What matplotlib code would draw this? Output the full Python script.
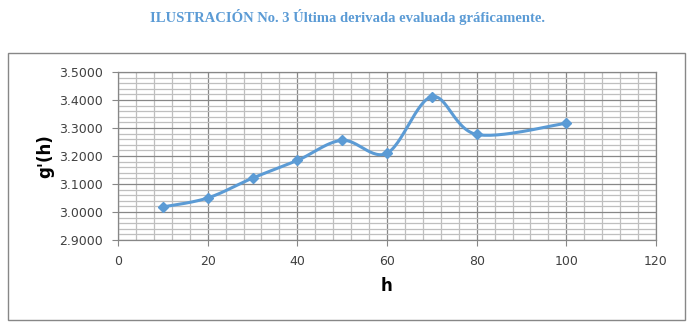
import numpy as np
import matplotlib
matplotlib.use("Agg")
import matplotlib.pyplot as plt
from matplotlib.patches import Rectangle

h_vals = [10, 20, 30, 40, 50, 60, 70, 80, 100]
g_vals = [3.018, 3.050, 3.121, 3.184, 3.256, 3.210, 3.412, 3.277, 3.317]
title = "ILUSTRACIÓN No. 3 Última derivada evaluada gráficamente."
blue = "#5B9BD5"

fig = plt.figure(figsize=(6.95, 3.31), dpi=100)
ax = fig.add_axes([118/695, 1-240/331, (656-118)/695, (240-72)/331])
ax.set_xlim(0, 120)
ax.set_ylim(2.9, 3.5)
ax.set_xticks(np.arange(0, 121, 20))
ax.set_yticks(np.arange(2.9, 3.5001, 0.1))
ax.set_xticks(np.arange(0, 121, 4), minor=True)
ax.set_yticks(np.arange(2.9, 3.5001, 0.02), minor=True)
ax.set_yticklabels([f"{v:.4f}" for v in np.arange(2.9, 3.5001, 0.1)])
ax.grid(which="minor", color="#BFBFBF", lw=0.9)
ax.grid(which="major", color="#878787", lw=0.9)
ax.set_axisbelow(True)
ax.tick_params(which="minor", length=0)
ax.tick_params(which="major", length=4, direction="out", color="#878787",
               labelsize=9, labelcolor="#404040")
ax.tick_params(axis="y", pad=7)
ax.tick_params(axis="x", pad=7)
for s in ax.spines.values():
    s.set_color("#878787")
    s.set_linewidth(0.9)

# Excel-like smooth curve (Catmull-Rom in display space)
fig.canvas.draw()
pts = ax.transData.transform(np.column_stack([h_vals, g_vals]))
n = len(pts)
verts = [pts[0]]
for i in range(n - 1):
    p0 = pts[i - 1] if i > 0 else pts[i]
    p1 = pts[i]
    p2 = pts[i + 1]
    p3 = pts[i + 2] if i + 2 < n else pts[i + 1]
    c1 = p1 + (p2 - p0) / 6.0
    c2 = p2 - (p3 - p1) / 6.0
    verts += [c1, c2, p2]
verts_data = ax.transData.inverted().transform(np.array(verts))
t = np.linspace(0, 1, 30)
curve = []
for i in range(n - 1):
    P0, P1, P2, P3 = verts_data[3*i], verts_data[3*i+1], verts_data[3*i+2], verts_data[3*i+3]
    seg = ((1-t)**3)[:, None]*P0 + (3*(1-t)**2*t)[:, None]*P1 + (3*(1-t)*t**2)[:, None]*P2 + (t**3)[:, None]*P3
    curve.append(seg)
curve = np.vstack(curve)
ax.plot(curve[:, 0], curve[:, 1], color=blue, lw=2.2, solid_capstyle="round")
ax.plot(h_vals, g_vals, linestyle="none", marker="D", markersize=5.5, color=blue)

ax.set_xlabel("h", fontsize=12, fontweight="bold", color="black", labelpad=6)
ax.set_ylabel("g'(h)", fontsize=12, fontweight="bold", color="black", labelpad=3)

fig.text(348/695, 1-17/331, title, ha="center", va="center", fontsize=10.5,
         fontweight="bold", color=blue, family="Liberation Serif")
fig.patches.append(Rectangle((8/695, 1-320/331), (685-8)/695, (320-53)/331,
                             transform=fig.transFigure, fill=False,
                             edgecolor="#878787", lw=1.0))
fig.savefig("out.png", dpi=100)
